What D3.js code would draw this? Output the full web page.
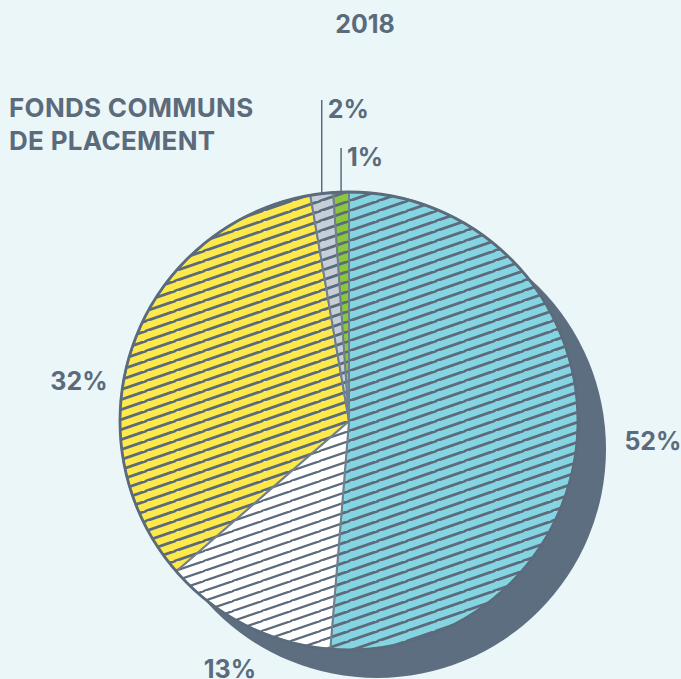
<!DOCTYPE html>
<html>
<head>
<meta charset="utf-8">
<script src="https://cdn.jsdelivr.net/npm/d3@7"></script>
<style>
  html, body { margin: 0; padding: 0; background: #ebf6f9; }
  svg { display: block; }
</style>
</head>
<body>
<script>
  // data (slice sizes, labels as printed)
  const categories = ["Bleu", "Blanc", "Jaune", "Gris", "Vert"];
  const values     = [51.3, 12.3, 33.7, 1.6, 1.1];
  const labels     = ["52%", "13%", "32%", "2%", "1%"];
  const fills      = ["#85d4e1", "#ffffff", "#fde94b", "#c6ced8", "#8cc63f"];
  const chartYear  = "2018";
  const titleLines = ["FONDS COMMUNS", "DE PLACEMENT"];

  const W = 681, H = 679;
  const cx = 349, cy = 421, R = 229;
  const shadowOff = 28;
  const ink = "#5b6b7c";

  const svg = d3.select("body").append("svg")
    .attr("width", W).attr("height", H)
    .attr("viewBox", [0, 0, W, H]);

  svg.append("rect").attr("width", W).attr("height", H).attr("fill", "#ebf6f9");

  const defs = svg.append("defs");

  // hatch: lines rising to the right, ~19deg, 10px apart vertically
  const tw = 29, th = 10;
  fills.forEach((c, i) => {
    const p = defs.append("pattern")
      .attr("id", "hatch" + i)
      .attr("patternUnits", "userSpaceOnUse")
      .attr("width", tw).attr("height", th);
    p.append("rect").attr("width", tw).attr("height", th).attr("fill", c);
    [-tw, 0, tw].forEach(ox => {
      p.append("line")
        .attr("x1", ox).attr("y1", th)
        .attr("x2", ox + tw).attr("y2", 0)
        .attr("stroke", ink)
        .attr("stroke-linecap", "square")
        .attr("stroke-width", i === 1 ? 2.2 : 2.8);
    });
  });

  const pie = d3.pie().sort(null).value(d => d.v);
  const arcs = pie(values.map((v, i) => ({ v, i })));
  const arc = d3.arc().innerRadius(0).outerRadius(R);

  // shadow
  svg.append("circle")
    .attr("cx", cx + shadowOff).attr("cy", cy + shadowOff)
    .attr("r", R).attr("fill", "#5d6e80");

  const g = svg.append("g").attr("transform", `translate(${cx},${cy})`);

  g.selectAll("path.slice")
    .data(arcs)
    .join("path")
    .attr("class", "slice")
    .attr("d", arc)
    .attr("fill", d => `url(#hatch${d.data.i})`)
    .attr("stroke", "#71808f")
    .attr("stroke-width", 2)
    .attr("stroke-linejoin", "round");

  g.append("circle").attr("r", R)
    .attr("fill", "none").attr("stroke", ink).attr("stroke-width", 2.8);

  const font = "Inter, 'Liberation Sans', sans-serif";
  const toRad = Math.PI / 180;

  // big labels: angle (deg, clockwise from top) and radius of the label centre
  const labelAngle = [93.7, 205.6, 278.5];
  const labelRadius = [304.6, 275.5, 273];
  arcs.slice(0, 3).forEach((d, k) => {
    const a = labelAngle[k] * toRad;
    svg.append("text")
      .attr("x", cx + labelRadius[k] * Math.sin(a))
      .attr("y", cy - labelRadius[k] * Math.cos(a) + 9)
      .attr("text-anchor", "middle")
      .attr("font-family", font).attr("font-weight", 700)
      .attr("font-size", 25).attr("fill", ink)
      .text(labels[d.data.i]);
  });

  // small slices: vertical leader up from the outer edge
  const leaderTop = [100, 148];
  arcs.slice(3).forEach((d, k) => {
    const a = (d.startAngle + d.endAngle) / 2;
    const x = cx + R * Math.sin(a);
    const y = cy - R * Math.cos(a);
    svg.append("line")
      .attr("x1", x).attr("x2", x)
      .attr("y1", y).attr("y2", leaderTop[k])
      .attr("stroke", ink).attr("stroke-width", 1.5);
    svg.append("text")
      .attr("x", x + 6).attr("y", leaderTop[k] + 18)
      .attr("font-family", font).attr("font-weight", 700)
      .attr("font-size", 25).attr("fill", ink)
      .text(labels[d.data.i]);
  });

  svg.append("text")
    .attr("x", 365).attr("y", 33)
    .attr("text-anchor", "middle")
    .attr("font-family", font).attr("font-weight", 700)
    .attr("font-size", 25).attr("fill", ink)
    .text(chartYear);

  svg.append("text")
    .attr("font-family", font).attr("font-weight", 700)
    .attr("font-size", 26).attr("fill", ink)
    .attr("letter-spacing", 0.3)
    .selectAll("tspan")
    .data(titleLines)
    .join("tspan")
    .attr("x", 9)
    .attr("y", (d, i) => 117 + i * 33)
    .text(d => d);
</script>
</body>
</html>
